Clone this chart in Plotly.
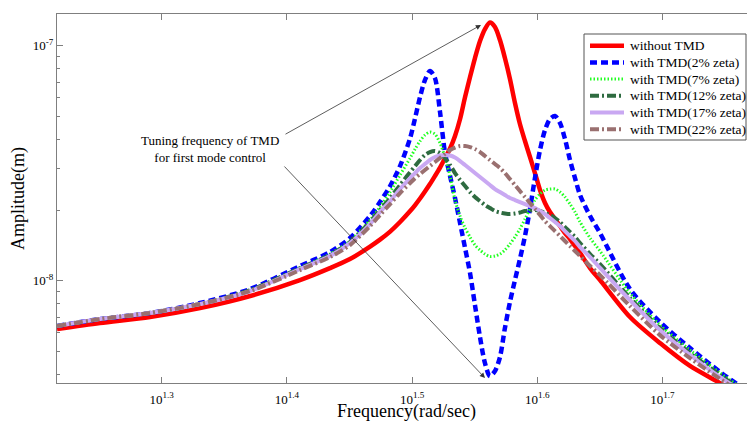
import plotly.graph_objects as go

# Frequency grid (rad/sec)
freq = [16.46, 17.81, 19.53, 21.41, 23.48, 25.73, 27.19, 28.21, 29.27, 29.81,
        30.37, 30.93, 31.51, 31.80, 32.09, 32.38, 32.68, 32.98, 33.29, 33.59,
        33.91, 34.22, 34.54, 34.86, 35.18, 35.50, 35.83, 36.16, 36.49, 36.83,
        37.17, 37.51, 37.86, 38.21, 38.56, 38.92, 39.28, 39.64, 40.01, 40.38,
        40.75, 41.13, 41.51, 41.89, 42.28, 42.67, 43.07, 43.87, 44.68, 47.21,
        49.89, 52.72, 55.72, 57.81]

without_tmd = [6.23e-9, 6.61e-9, 7.01e-9, 7.65e-9, 8.61e-9, 1.007e-8, 1.132e-8, 1.237e-8, 1.398e-8, 1.497e-8,
               1.619e-8, 1.778e-8, 1.980e-8, 2.100e-8, 2.238e-8, 2.397e-8, 2.579e-8, 2.790e-8, 3.032e-8, 3.311e-8,
               3.652e-8, 4.128e-8, 4.877e-8, 6.05e-8, 7.359e-8, 8.864e-8, 1.047e-7, 1.178e-7, 1.255e-7, 1.201e-7,
               1.057e-7, 8.864e-8, 7.216e-8, 5.705e-8, 4.644e-8, 3.931e-8, 3.361e-8, 2.873e-8, 2.432e-8, 2.142e-8,
               1.961e-8, 1.831e-8, 1.709e-8, 1.596e-8, 1.505e-8, 1.405e-8, 1.312e-8, 1.132e-8, 1.007e-8, 7.01e-9,
               5.43e-9, 4.34e-9, 3.67e-9, 3.26e-9]

tmd_2 = [6.42e-9, 6.87e-9, 7.29e-9, 8.04e-9, 9.22e-9, 1.155e-8, 1.325e-8, 1.520e-8, 1.885e-8, 2.162e-8,
         2.529e-8, 3.077e-8, 4.048e-8, 4.925e-8, 6.05e-8, 7.146e-8, 7.804e-8, 7.287e-8, 5.223e-8, 3.529e-8,
         2.790e-8, 2.249e-8, 1.760e-8, 1.378e-8, 1.078e-8, 7.88e-9, 5.76e-9, 4.46e-9, 3.93e-9, 4.13e-9,
         4.73e-9, 6.29e-9, 8.12e-9, 1.007e-8, 1.237e-8, 1.550e-8, 2.019e-8, 2.735e-8, 3.599e-8, 4.378e-8,
         4.877e-8, 5.022e-8, 4.689e-8, 4.009e-8, 3.264e-8, 2.735e-8, 2.316e-8, 1.885e-8, 1.596e-8, 9.22e-9,
         6.67e-9, 5.17e-9, 4.09e-9, 3.56e-9]

tmd_7 = [6.42e-9, 6.87e-9, 7.29e-9, 7.96e-9, 9.13e-9, 1.132e-8, 1.299e-8, 1.476e-8, 1.813e-8, 2.059e-8,
         2.385e-8, 2.817e-8, 3.328e-8, 3.635e-8, 3.931e-8, 4.169e-8, 4.293e-8, 4.210e-8, 3.855e-8, 3.361e-8,
         2.790e-8, 2.205e-8, 1.885e-8, 1.676e-8, 1.535e-8, 1.419e-8, 1.351e-8, 1.299e-8, 1.268e-8, 1.274e-8,
         1.299e-8, 1.351e-8, 1.433e-8, 1.535e-8, 1.660e-8, 1.831e-8, 2.019e-8, 2.205e-8, 2.339e-8, 2.432e-8,
         2.456e-8, 2.456e-8, 2.385e-8, 2.271e-8, 2.120e-8, 1.961e-8, 1.778e-8, 1.520e-8, 1.338e-8, 8.86e-9,
         6.48e-9, 5.07e-9, 4.05e-9, 3.53e-9]

tmd_12 = [6.42e-9, 6.87e-9, 7.29e-9, 7.96e-9, 9.13e-9, 1.132e-8, 1.286e-8, 1.461e-8, 1.778e-8, 1.999e-8,
          2.249e-8, 2.554e-8, 2.901e-8, 3.077e-8, 3.264e-8, 3.427e-8, 3.529e-8, 3.564e-8, 3.495e-8, 3.328e-8,
          3.107e-8, 2.873e-8, 2.683e-8, 2.529e-8, 2.385e-8, 2.271e-8, 2.183e-8, 2.100e-8, 2.039e-8, 1.980e-8,
          1.951e-8, 1.932e-8, 1.922e-8, 1.932e-8, 1.951e-8, 1.980e-8, 1.989e-8, 1.999e-8, 1.980e-8, 1.941e-8,
          1.904e-8, 1.849e-8, 1.778e-8, 1.692e-8, 1.612e-8, 1.535e-8, 1.447e-8, 1.299e-8, 1.178e-8, 8.44e-9,
          6.29e-9, 4.92e-9, 3.97e-9, 3.46e-9]

tmd_17 = [6.42e-9, 6.87e-9, 7.29e-9, 7.96e-9, 9.04e-9, 1.122e-8, 1.274e-8, 1.447e-8, 1.743e-8, 1.961e-8,
          2.183e-8, 2.456e-8, 2.735e-8, 2.873e-8, 3.017e-8, 3.138e-8, 3.264e-8, 3.361e-8, 3.410e-8, 3.427e-8,
          3.410e-8, 3.344e-8, 3.231e-8, 3.107e-8, 2.988e-8, 2.873e-8, 2.762e-8, 2.656e-8, 2.554e-8, 2.456e-8,
          2.385e-8, 2.316e-8, 2.249e-8, 2.205e-8, 2.162e-8, 2.120e-8, 2.079e-8, 2.039e-8, 1.980e-8, 1.922e-8,
          1.849e-8, 1.778e-8, 1.709e-8, 1.627e-8, 1.550e-8, 1.476e-8, 1.391e-8, 1.261e-8, 1.134e-8, 8.28e-9,
          6.17e-9, 4.83e-9, 3.89e-9, 3.43e-9]

tmd_22 = [6.42e-9, 6.87e-9, 7.29e-9, 7.96e-9, 9.04e-9, 1.110e-8, 1.261e-8, 1.419e-8, 1.709e-8, 1.904e-8,
          2.120e-8, 2.362e-8, 2.605e-8, 2.735e-8, 2.845e-8, 2.959e-8, 3.077e-8, 3.200e-8, 3.328e-8, 3.461e-8,
          3.599e-8, 3.688e-8, 3.743e-8, 3.743e-8, 3.706e-8, 3.635e-8, 3.529e-8, 3.394e-8, 3.264e-8, 3.138e-8,
          3.017e-8, 2.873e-8, 2.709e-8, 2.554e-8, 2.408e-8, 2.271e-8, 2.142e-8, 2.019e-8, 1.904e-8, 1.795e-8,
          1.709e-8, 1.627e-8, 1.550e-8, 1.476e-8, 1.405e-8, 1.338e-8, 1.274e-8, 1.155e-8, 1.057e-8, 7.80e-9,
          5.87e-9, 4.69e-9, 3.82e-9, 3.36e-9]

series_names = ["without TMD", "with TMD(2% zeta)", "with TMD(7% zeta)",
                "with TMD(12% zeta)", "with TMD(17% zeta)", "with TMD(22% zeta)"]
series_values = [without_tmd, tmd_2, tmd_7, tmd_12, tmd_17, tmd_22]
series_colors = ["#ff0000", "#0000ff", "#22ff22", "#2e6b40", "#c9a8f2", "#9a7070"]
series_dash = ["solid", "7px,4px", "1.5px,2px", "9px,3px,2px,3px", "solid", "9px,3px,2px,3px"]
series_width = [4.5, 4.5, 3, 4, 4, 4]

x_tick_exps = ["1.3", "1.4", "1.5", "1.6", "1.7"]
x_tick_vals = [19.953, 25.119, 31.623, 39.811, 50.119]
y_tick_vals = [1e-8, 1e-7]
y_tick_text = ["10<sup>-8</sup>", "10<sup>-7</sup>"]
y_minor_vals = [4e-9, 5e-9, 6e-9, 7e-9, 8e-9, 9e-9,
                2e-8, 3e-8, 4e-8, 5e-8, 6e-8, 7e-8, 8e-8, 9e-8]
x_title = "Frequency(rad/sec)"
y_title = "Amplitude(m)"

FONT = "Liberation Serif"
AXC = "#7f7f7f"

# figure geometry (pixels) used to place the decorations
W, H = 747, 421
ML, MT, MB = 57, 14, 38
PW, PH = W - ML, H - MT - MB


def px(xp):
    return (xp - ML) / PW


def py(yp):
    return (H - MB - yp) / PH


fig = go.Figure()
for name, vals, col, dash, w in zip(series_names, series_values, series_colors, series_dash, series_width):
    fig.add_trace(go.Scatter(
        x=freq, y=vals, name=name, mode="lines",
        line=dict(color=col, dash=dash, width=w, shape="spline", smoothing=0.8),
    ))

fig.update_layout(
    width=W, height=H,
    margin=dict(l=ML, r=0, t=MT, b=MB),
    plot_bgcolor="white", paper_bgcolor="white",
    font=dict(family=FONT, color="black", size=13),
    showlegend=False,
)

fig.update_xaxes(
    type="log", range=[1.2164, 1.7675],
    tickmode="array", tickvals=x_tick_vals,
    ticktext=["10<sup>" + e + "</sup>" for e in x_tick_exps],
    ticks="inside", ticklen=6, tickcolor=AXC, ticklabelstandoff=4,
    showline=True, linecolor=AXC, linewidth=1, mirror="ticks",
    showgrid=False, zeroline=False,
    tickfont=dict(family=FONT, size=13, color="black"),
    automargin=False,
)
fig.update_yaxes(
    type="log", range=[-8.435, -6.865],
    tickmode="array", tickvals=y_tick_vals, ticktext=y_tick_text,
    ticks="inside", ticklen=6, tickcolor=AXC,
    minor=dict(tickmode="array", tickvals=y_minor_vals, ticks="inside", ticklen=3, tickcolor=AXC),
    showline=True, linecolor=AXC, linewidth=1, mirror=False,
    showgrid=False, zeroline=False,
    tickfont=dict(family=FONT, size=13, color="black"),
    title=dict(text=y_title, font=dict(family=FONT, size=18, color="black"), standoff=3),
    automargin=False,
)

# x-axis title placed low, as in the reference
fig.add_annotation(xref="paper", yref="paper", x=px(406), y=py(411.5),
                   xanchor="center", yanchor="middle", text=x_title, showarrow=False,
                   font=dict(family=FONT, size=18, color="black"))

# Legend box drawn in the reference's compact layout
fig.add_shape(type="rect", xref="paper", yref="paper",
              x0=px(584), x1=px(746), y0=py(140), y1=py(34),
              line=dict(color="#555555", width=1), fillcolor="white", layer="above")
row0, row_gap = 45.7, 16.7
for i, (name, col, dash, w) in enumerate(zip(series_names, series_colors, series_dash, series_width)):
    ry = row0 + i * row_gap
    fig.add_shape(type="line", xref="paper", yref="paper",
                  x0=px(590), x1=px(624), y0=py(ry), y1=py(ry),
                  line=dict(color=col, dash=dash, width=w), layer="above")
    fig.add_annotation(xref="paper", yref="paper", x=px(628), y=py(ry),
                       xanchor="left", yanchor="middle", text=name, showarrow=False,
                       font=dict(family=FONT, size=13.5, color="black"))

# Annotation text and two arrows
fig.add_annotation(xref="paper", yref="paper", x=px(210), y=py(148.5),
                   xanchor="center", yanchor="middle",
                   text="Tuning frequency of TMD<br>for first mode control", showarrow=False,
                   align="center", font=dict(family=FONT, size=13, color="black"))
fig.add_annotation(
    xref="paper", yref="paper", x=px(481), y=py(25), ax=284 - 481, ay=135 - 25,
    axref="pixel", ayref="pixel", text="", showarrow=True,
    arrowhead=2, arrowsize=1.3, arrowwidth=0.8, arrowcolor="#333333", standoff=0,
)
fig.add_annotation(
    xref="paper", yref="paper", x=px(485), y=py(378), ax=283 - 485, ay=165 - 378,
    axref="pixel", ayref="pixel", text="", showarrow=True,
    arrowhead=2, arrowsize=1.3, arrowwidth=0.8, arrowcolor="#333333", standoff=0,
)

fig.write_html("out.html", config={"displayModeBar": False},
               post_script="document.body.style.margin='0px';")
